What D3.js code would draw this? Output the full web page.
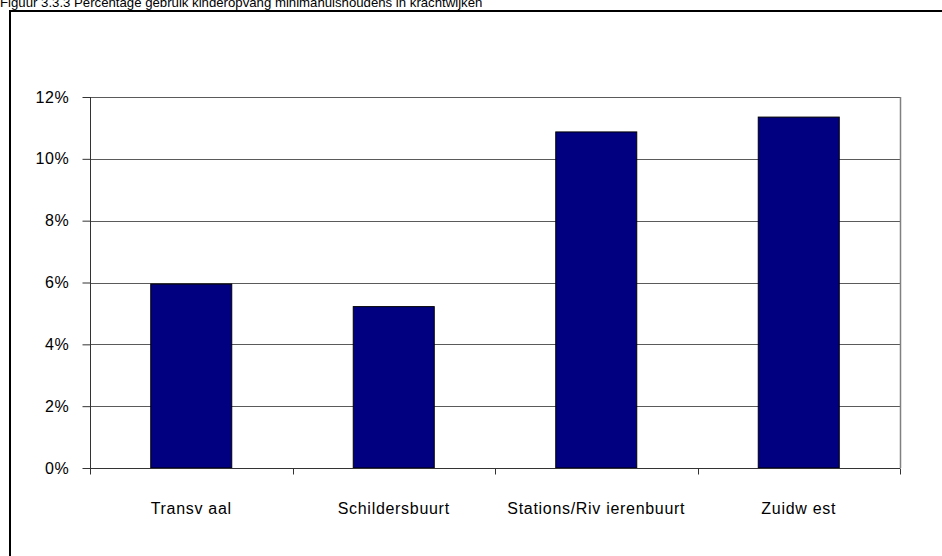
<!DOCTYPE html>
<html>
<head>
<meta charset="utf-8">
<script src="https://cdn.jsdelivr.net/npm/d3@7"></script>
<style>
  body { margin: 0; background: #fff; }
  svg { display: block; font-family: "Liberation Sans", Arial, sans-serif; }
</style>
</head>
<body>
<script>
// chart data
const title = "Figuur 3.3.3 Percentage gebruik kinderopvang minimahuishoudens in krachtwijken";
const wijken = ["Transv aal", "Schildersbuurt", "Stations/Riv ierenbuurt", "Zuidw est"];
const percentages = [5.95, 5.22, 10.87, 11.35];
const yTicks = [0, 2, 4, 6, 8, 10, 12];

const width = 942, height = 556;
const plotLeft = 90, plotRight = 900, plotTop = 97, plotBottom = 468;

const svg = d3.select("body").append("svg")
    .attr("width", width)
    .attr("height", height);

// title, clipped at the top of the page like the original scan
svg.append("text")
    .attr("x", 0)
    .attr("y", 6.5)
    .attr("font-size", 13.2)
    .attr("fill", "#000")
    .text(title);

// outer frame (runs off right and bottom)
svg.append("rect")
    .attr("x", 10).attr("y", 11)
    .attr("width", 1000).attr("height", 600)
    .attr("fill", "none")
    .attr("stroke", "#000")
    .attr("stroke-width", 2);

const x = d3.scaleBand()
    .domain(wijken)
    .range([plotLeft, plotRight])
    .padding(0);

const y = d3.scaleLinear()
    .domain([0, 12])
    .range([plotBottom, plotTop]);

// gridlines
svg.append("g")
    .selectAll("line")
    .data(yTicks.slice(1))
    .join("line")
    .attr("x1", plotLeft).attr("x2", plotRight)
    .attr("y1", d => Math.round(y(d)) + 0.5)
    .attr("y2", d => Math.round(y(d)) + 0.5)
    .attr("stroke", "#5a5a5a")
    .attr("stroke-width", 1);

// plot area right border
svg.append("line")
    .attr("x1", plotRight + 0.5).attr("x2", plotRight + 0.5)
    .attr("y1", plotTop).attr("y2", plotBottom)
    .attr("stroke", "#808080")
    .attr("stroke-width", 1.5);

// bars
const bw = x.bandwidth();
svg.append("g")
    .selectAll("rect")
    .data(wijken)
    .join("rect")
    .attr("x", d => x(d) + bw * 0.3)
    .attr("y", (d, i) => y(percentages[i]))
    .attr("width", bw * 0.4)
    .attr("height", (d, i) => plotBottom - y(percentages[i]))
    .attr("fill", "#000080")
    .attr("stroke", "#000")
    .attr("stroke-width", 1);

// y axis
const yAxis = d3.axisLeft(y)
    .tickValues(yTicks)
    .tickFormat(d => d + "%")
    .tickSize(8)
    .tickPadding(13);

const gy = svg.append("g")
    .attr("transform", `translate(${plotLeft + 0.5},0)`)
    .call(yAxis);
gy.select(".domain").attr("stroke", "#333").attr("d", `M0,${plotTop}V${plotBottom}`);
gy.selectAll(".tick line").attr("stroke", "#333");
gy.selectAll(".tick text")
    .attr("font-size", 16)
    .attr("letter-spacing", 0.7)
    .attr("font-family", "Liberation Sans, Arial, sans-serif")
    .attr("fill", "#000");

// x axis: ticks at band boundaries
const gx = svg.append("g")
    .attr("transform", `translate(0,${plotBottom + 0.5})`);
gx.append("line")
    .attr("x1", plotLeft).attr("x2", plotRight)
    .attr("stroke", "#333");
gx.selectAll(".bt")
    .data([plotLeft].concat(wijken.map(d => x(d) + bw)))
    .join("line")
    .attr("class", "bt")
    .attr("x1", d => Math.round(d) + 0.5).attr("x2", d => Math.round(d) + 0.5)
    .attr("y1", 0).attr("y2", 6)
    .attr("stroke", "#333");
gx.selectAll("text.lbl")
    .data(wijken)
    .join("text")
    .attr("class", "lbl")
    .attr("x", d => x(d) + bw / 2)
    .attr("y", 45.5)
    .attr("text-anchor", "middle")
    .attr("font-size", 16)
    .attr("letter-spacing", 0.7)
    .attr("fill", "#000")
    .text(d => d);
</script>
</body>
</html>
